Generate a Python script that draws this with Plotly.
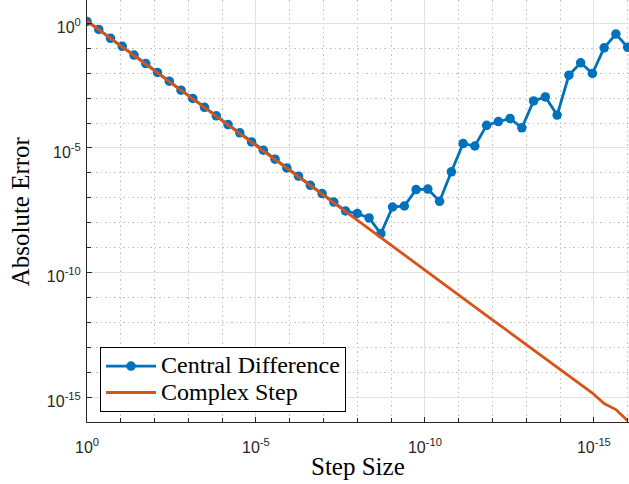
import plotly.graph_objects as go

# Step sizes h (as base-10 exponents), from 1 down to 1e-16
step_exponents = [
    0.000, -0.348, -0.696, -1.043, -1.391, -1.739, -2.087, -2.435, -2.783, -3.130,
    -3.478, -3.826, -4.174, -4.522, -4.870, -5.217, -5.565, -5.913, -6.261, -6.609,
    -6.957, -7.304, -7.652, -8.000, -8.348, -8.696, -9.043, -9.391, -9.739, -10.087,
    -10.435, -10.783, -11.130, -11.478, -11.826, -12.174, -12.522, -12.870, -13.217, -13.565,
    -13.913, -14.261, -14.609, -14.957, -15.304, -15.652, -16.000,
]
step_size = [10 ** e for e in step_exponents]

# Absolute error of the central-difference derivative estimate
central_difference_error = [
    1.20, 5.75e-1, 2.51e-1, 1.20e-1, 5.37e-2, 2.45e-2, 1.07e-2, 4.79e-3, 2.09e-3, 9.77e-4,
    4.27e-4, 1.95e-4, 8.71e-5, 4.07e-5, 1.74e-5, 8.13e-6, 3.55e-6, 1.58e-6, 7.41e-7, 3.16e-7,
    1.48e-7, 6.76e-8, 2.95e-8, 2.34e-8, 1.55e-8, 3.63e-9, 4.27e-8, 4.68e-8, 2.14e-7, 2.24e-7,
    7.24e-8, 1.10e-6, 1.51e-5, 1.20e-5, 8.13e-5, 1.15e-4, 1.51e-4, 6.46e-5, 7.76e-4, 1.12e-3,
    2.09e-4, 8.32e-3, 2.63e-2, 9.77e-3, 1.05e-1, 3.72e-1, 1.10e-1,
]

# Absolute error of the complex-step derivative estimate
complex_step_error = [
    1.26, 5.62e-1, 2.51e-1, 1.15e-1, 5.13e-2, 2.29e-2, 1.02e-2, 4.68e-3, 2.09e-3, 9.33e-4,
    4.17e-4, 1.86e-4, 8.51e-5, 3.80e-5, 1.70e-5, 7.59e-6, 3.39e-6, 1.55e-6, 6.92e-7, 3.09e-7,
    1.38e-7, 6.31e-8, 2.82e-8, 1.26e-8, 5.62e-9, 2.51e-9, 1.15e-9, 5.13e-10, 2.29e-10, 1.02e-10,
    4.57e-11, 2.09e-11, 9.33e-12, 4.17e-12, 1.86e-12, 8.51e-13, 3.80e-13, 1.70e-13, 7.59e-14, 3.39e-14,
    1.55e-14, 6.92e-15, 3.09e-15, 1.45e-15, 5.50e-16, 3.16e-16, 1.12e-16,
]

tick_values = [1, 1e-5, 1e-10, 1e-15]
tick_labels = ["10<sup>0</sup>", "10<sup>-5</sup>", "10<sup>-10</sup>", "10<sup>-15</sup>"]

BLUE = "#0072BD"
ORANGE = "#D95319"
AXIS = "#262626"
SERIF = "Liberation Serif, Times New Roman, serif"
SANS = "Liberation Sans, Arial, sans-serif"


def legend_label(text):
    # larger glyphs than the legend's base font, keeping the rows compact
    return f'<span style="font-size:24px">{text}</span>'


fig = go.Figure()
fig.add_trace(go.Scatter(
    x=step_size, y=central_difference_error, name=legend_label("Central Difference"),
    mode="lines+markers",
    line=dict(color=BLUE, width=2.8),
    marker=dict(color=BLUE, size=9.5, line=dict(width=0)),
))
fig.add_trace(go.Scatter(
    x=step_size, y=complex_step_error, name=legend_label("Complex Step"),
    mode="lines",
    line=dict(color=ORANGE, width=2.8),
))

axis_common = dict(
    type="log",
    tickmode="array",
    tickvals=tick_values,
    ticktext=tick_labels,
    tickfont=dict(family=SANS, size=16, color=AXIS),
    ticks="inside", ticklen=5, tickcolor=AXIS, tickwidth=1,
    showline=True, linecolor=AXIS, linewidth=1,
    showgrid=True, gridcolor="#e2e2e2", gridwidth=1,
    zeroline=False,
    minor=dict(
        tickmode="linear", tick0=0, dtick=1,
        ticks="inside", ticklen=4, tickcolor=AXIS, tickwidth=1,
        showgrid=True, gridcolor="#c4c4c4", griddash="1.5px,3px", gridwidth=1,
    ),
)

fig.update_xaxes(**axis_common, range=[0, -16.04], ticklabelstandoff=11)
fig.update_yaxes(**axis_common, range=[-16, 0.94], ticklabelstandoff=2, ticklabelshift=4)

fig.update_layout(
    width=629, height=484,
    margin=dict(l=87, r=0, t=0, b=62),
    plot_bgcolor="white", paper_bgcolor="white",
    showlegend=True,
    legend=dict(
        x=0.024, y=0.178, xanchor="left", yanchor="top",
        bgcolor="white", bordercolor="#000000", borderwidth=1,
        font=dict(family=SERIF, size=18, color="#000000"),
        itemwidth=50, tracegroupgap=0,
    ),
    annotations=[
        dict(text="Step Size", xref="paper", yref="paper", x=0.5, y=-0.105,
             xanchor="center", yanchor="middle", showarrow=False,
             font=dict(family=SERIF, size=25, color="#000000")),
        dict(text="Absolute Error", xref="paper", yref="paper", x=-0.123, y=0.5,
             xanchor="center", yanchor="middle", showarrow=False, textangle=-90,
             font=dict(family=SERIF, size=25, color="#000000")),
    ],
)

fig.write_html("out.html")
